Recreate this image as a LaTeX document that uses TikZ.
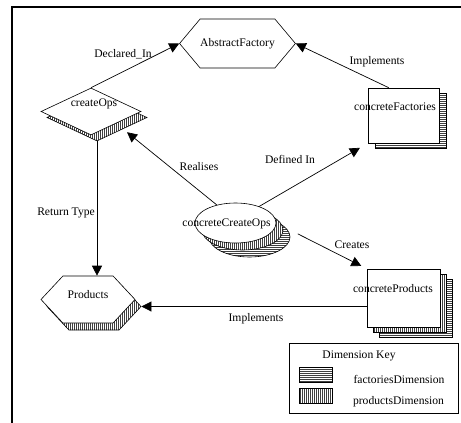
\documentclass[tikz,border=0pt]{standalone}
\usepackage{fontspec}
\setmainfont{Liberation Serif}
\usetikzlibrary{arrows.meta}
\usetikzlibrary{patterns,patterns.meta}
\usetikzlibrary{shapes.geometric,shapes.symbols}
\usetikzlibrary{calc}

\tikzset{
	lbl/.style={font=\fontsize{11.6}{13}\selectfont, inner sep=0pt},
	conn/.style={line width=0.7pt, -{Triangle[length=10pt,width=10pt]}},
	facdim/.style={preaction={fill=white}, pattern={Lines[angle=0,distance=2pt,line width=0.5pt]}, pattern color=black!75},
	proddim/.style={preaction={fill=white}, pattern={Lines[angle=90,distance=2pt,line width=0.5pt]}, pattern color=black!75},
	hexa/.style={draw, shape=signal, signal to=west and east, signal from=nowhere, inner sep=0pt},
	opbox/.style={draw, diamond, inner sep=0pt, minimum width=100pt, minimum height=47pt},
	multibox/.style={draw, rectangle, inner sep=0pt},
	opoval/.style={draw, ellipse, inner sep=0pt, minimum width=81pt, minimum height=40pt}
}

\begin{document}
\begin{tikzpicture}[x=1pt, y=-1pt, line width=0.6pt]
					\useasboundingbox (0,0) rectangle (461,423);
					% frame
					\draw[line width=1.2pt] (461,7) -- (12,7) -- (12,423);
					
					% abstract factory
					\node[hexa, signal pointer angle=100, minimum width=91pt, minimum height=49pt, lbl] (af) at (237.5,43.5) {AbstractFactory};
					
					% createOps
					\node[opbox, proddim] (cos) at (97,117.5) {};
					\node[opbox, fill=white] (co) at (91,111.5) {};
					\node[lbl] (cot) at (94,104) {createOps};
					
					% concreteFactories
					\node[multibox, facdim, minimum width=71pt, minimum height=55pt] (cfs) at (410.5,120.5) {};
					\node[multibox, fill=white, minimum width=71pt, minimum height=55pt] (cf) at (403.5,115.5) {};
					\node[lbl] (cft) at (395,107) {concreteFactories};
					
					% concreteCreateOps
					\node[opoval, facdim] (ccos2) at (249.5,237) {};
					\node[opoval, proddim] (ccos1) at (242.5,230) {};
					\node[opoval, fill=white] (cco) at (235.5,223) {};
					\node[lbl] (ccot) at (226.5,224) {concreteCreateOps};
					
					% products
					\node[hexa, signal pointer angle=94, minimum width=94pt, minimum height=47pt, proddim] (prs) at (94,306.5) {};
					\node[hexa, signal pointer angle=94, minimum width=94pt, minimum height=47pt, fill=white] (pr) at (88,299.5) {};
					\node[lbl] (prt) at (88,295) {Products};
					
					% concreteProducts
					\node[multibox, facdim, minimum width=73pt, minimum height=58pt] (cps2) at (415.5,308) {};
					\node[multibox, proddim, minimum width=73pt, minimum height=58pt] (cps1) at (409.5,303) {};
					\node[multibox, fill=white, minimum width=73pt, minimum height=58pt] (cp) at (403.5,298) {};
					\node[lbl] (cpt) at (393,289) {concreteProducts};
					
					% connectors
					\draw[conn] (co.north) -- (af.west);
					\draw[conn] (cf.118) -- (af.east);
					\draw[conn, shorten >=14pt] (cco.136) -- (co.south east);
					\draw[conn, shorten >=9pt] (cco.35) -- (cf.south west);
					\draw[conn] (cos.south) -- (cos.south |- pr.north);
					\draw[conn, shorten <=24pt, shorten >=6pt] (cco.east) -- (cp.north west);
					\draw[conn] (prs.east -| cp.west) -- (prs.east);
					
					% connector labels
					\node[lbl] (l1) at (123,54) {Declared\_In};
					\node[lbl] (l2) at (377,62) {Implements};
					\node[lbl] (l3) at (199,167) {Realises};
					\node[lbl] (l4) at (290,159) {Defined In};
					\node[lbl] (l5) at (66,213) {Return Type};
					\node[lbl] (l6) at (352,245) {Creates};
					\node[lbl] (l7) at (256,319) {Implements};
					
					% dimension key
					\node[draw, minimum width=169pt, minimum height=70pt] (key) at (373.5,378) {};
					\node[lbl] (keyt) at (359,356) {Dimension Key};
					\node[draw, facdim, minimum width=33pt, minimum height=15pt, inner sep=0pt] (k1) at (315.5,375) {};
					\node[draw, proddim, minimum width=33pt, minimum height=15pt, inner sep=0pt] (k2) at (315.5,396) {};
					\node[lbl] (k1t) at (399,379) {factoriesDimension};
					\node[lbl] (k2t) at (398.5,402) {productsDimension};
				\end{tikzpicture}
\end{document}
